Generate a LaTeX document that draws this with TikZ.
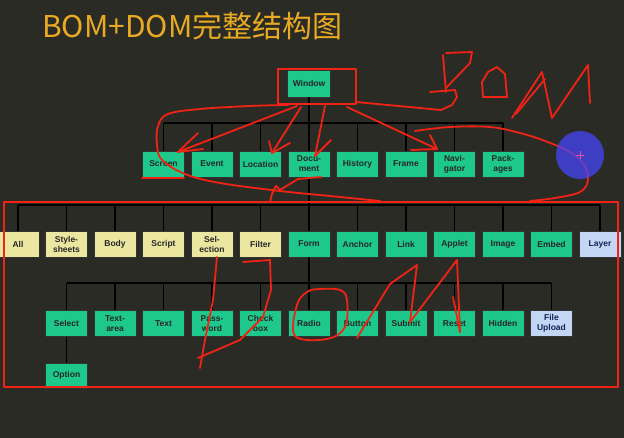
\documentclass[tikz,border=0pt]{standalone}
\usepackage{fontspec}
\setmainfont{Liberation Sans}
\newfontfamily\cjk{Noto Sans CJK SC}
\definecolor{bg}{RGB}{43,43,38}
\definecolor{titlecol}{RGB}{232,170,35}
\definecolor{boxgreen}{RGB}{30,200,140}
\definecolor{boxyellow}{RGB}{235,230,160}
\definecolor{boxblue}{RGB}{195,215,245}
\definecolor{navytext}{RGB}{20,35,90}
\definecolor{pen}{RGB}{240,35,20}
\definecolor{penblue}{RGB}{70,70,255}
\tikzset{
  box/.style={draw=black!80, line width=0.5pt, minimum width=42pt, minimum height=26pt,
    inner sep=0pt, align=center, font=\bfseries\fontsize{8.5}{10}\selectfont},
  gbox/.style={box, fill=boxgreen, text=black!85},
  ybox/.style={box, fill=boxyellow, text=black!85},
  bbox/.style={box, fill=boxblue, text=navytext},
  conn/.style={draw=black, line width=1.4pt},
  ink/.style={draw=pen, line width=1.8pt, line cap=round, line join=round}
}
\begin{document}
\begin{tikzpicture}[x=1pt,y=-1pt]
\useasboundingbox (0,0) rectangle (624,438);
\fill[bg] (0,0) rectangle (624,438);

% title
\node[anchor=base west, inner sep=0pt, text=titlecol, font=\cjk\fontsize{30}{33}\selectfont] (title) at (42,38) {BOM+DOM完整结构图};

% bus coordinates
\coordinate (bomL) at (163.5,123);
\coordinate (bomR) at (503,123);
\coordinate (domL) at (18,205);
\coordinate (domR) at (600,205);
\coordinate (frmL) at (66.5,283);
\coordinate (frmR) at (551,283);

% Window
\node[gbox, minimum width=43pt, minimum height=27pt] (win) at (309,83.5) {Window};

% BOM row
\node[gbox] (screen) at (163.5,164) {Screen};
\node[gbox] (event) at (212,164) {Event};
\node[gbox] (location) at (260.5,164) {Location};
\node[gbox] (document) at (309,164) {Docu-\\ment};
\node[gbox] (history) at (357.5,164) {History};
\node[gbox] (frame) at (406,164) {Frame};
\node[gbox] (navigator) at (454.5,164) {Navi-\\gator};
\node[gbox] (packages) at (503,164) {Pack-\\ages};

% DOM row
\node[ybox] (all) at (18,244) {All};
\node[ybox] (style) at (66.5,244) {Style-\\sheets};
\node[ybox] (body) at (115,244) {Body};
\node[ybox] (script) at (163.5,244) {Script};
\node[ybox] (selection) at (212,244) {Sel-\\ection};
\node[ybox] (filter) at (260.5,244) {Filter};
\node[gbox] (form) at (309,244) {Form};
\node[gbox] (anchor) at (357.5,244) {Anchor};
\node[gbox] (link) at (406,244) {Link};
\node[gbox] (applet) at (454.5,244) {Applet};
\node[gbox] (image) at (503,244) {Image};
\node[gbox] (embed) at (551.5,244) {Embed};
\node[bbox] (layer) at (600,244) {Layer};

% Form children
\node[gbox] (select) at (66.5,323.5) {Select};
\node[gbox] (textarea) at (115,323.5) {Text-\\area};
\node[gbox] (text) at (163.5,323.5) {Text};
\node[gbox] (password) at (212,323.5) {Pass-\\word};
\node[gbox] (checkbox) at (260.5,323.5) {Check\\box};
\node[gbox] (radio) at (309,323.5) {Radio};
\node[gbox] (button) at (357.5,323.5) {Button};
\node[gbox] (submit) at (406,323.5) {Submit};
\node[gbox] (reset) at (454.5,323.5) {Reset};
\node[gbox] (hidden) at (503,323.5) {Hidden};
\node[bbox] (upload) at (551.5,323.5) {File\\Upload};
\node[gbox, minimum height=25pt] (option) at (66.5,375.5) {Option};

% connectors
\draw[conn] (win.south) -- (win.south |- bomL);
\draw[conn] (bomL) -- (bomR);
\foreach \n in {screen,event,location,document,history,frame,navigator,packages}
  \draw[conn] (\n.north) -- (\n.north |- bomL);
\draw[conn] (document.south) -- (document.south |- domL);
\draw[conn] (domL) -- (domR);
\foreach \n in {all,style,body,script,selection,filter,form,anchor,link,applet,image,embed,layer}
  \draw[conn] (\n.north) -- (\n.north |- domL);
\draw[conn] (form.south) -- (form.south |- frmL);
\draw[conn] (frmL) -- (frmR);
\foreach \n in {select,textarea,text,password,checkbox,radio,button,submit,reset,hidden,upload}
  \draw[conn] (\n.north) -- (\n.north |- frmL);
\draw[conn] (select.south) -- (option.north);

% red annotations
\draw[ink] (278,69) rectangle (356,104);
\draw[ink] (4,202) rectangle (618,387);
\draw[ink] plot[smooth, tension=0.6] coordinates {(288,105) (250,106) (200,109) (168,114) (158,126) (157,145) (162,160) (185,174) (220,183) (280,191) (330,196) (380,201)};
\draw[ink] plot[smooth, tension=0.6] coordinates {(415,131) (450,127) (490,127) (520,133) (545,141) (570,152) (584,165) (588,180) (580,192) (555,198) (530,201)};
\draw[ink] (321,177) -- (298,179) -- (280,190) -- (276,186) -- (272,194) -- (270,202);
\draw[ink] (142,178) -- (184,178);
% arrows from window
\draw[ink] (297,106) -- (178,152);
\draw[ink] (198,133) -- (178,152) -- (203,149);
\draw[ink] (301,107) -- (272,153);
\draw[ink] (269,141) -- (272,153) -- (290,143);
\draw[ink] (325,106) -- (315,156);
\draw[ink] (331,140) -- (315,156);
\draw[ink] (347,107) -- (437,149);
\draw[ink] (430,135) -- (437,149) -- (411,150);
% handwritten BOM
\draw[ink] (356,102) -- (441,110) -- (452,105) -- (457,97) -- (455,90) -- (430,92);
\draw[ink] (443,55) -- (446,92);
\draw[ink] (446,53) -- (472,52) -- (470,63) -- (446,88);
\draw[ink] (488,72) -- (497,67) -- (505,74) -- (507,97) -- (483,97) -- (482,82) -- cycle;
\draw[ink] (512,118) -- (542,72) -- (552,118) -- (588,65) -- (590,103);
\draw[ink] (516,114) -- (545,79);
% handwritten DOM
\draw[ink] (217,257) -- (213,300) -- (205,340) -- (200,368);
\draw[ink] (243,262) -- (270,260) -- (271,290) -- (263,317) -- (240,340) -- (198,358);
\draw[ink] plot[smooth cycle, tension=0.6] coordinates {(320,289) (307,292) (297,305) (295,336) (327,339) (345,327) (347,300) (340,290)};
\draw[ink] (357,338) -- (390,284) -- (417,265) -- (410,322) -- (457,260) -- (460,332);
\draw[ink] (453,297) -- (460,332);
% pointer circle
\fill[penblue, opacity=0.72] (580,155) circle (24);
\draw[magenta!60!pink, line width=0.8pt] (576,155) -- (584,155) (580,151) -- (580,159);
\end{tikzpicture}
\end{document}
